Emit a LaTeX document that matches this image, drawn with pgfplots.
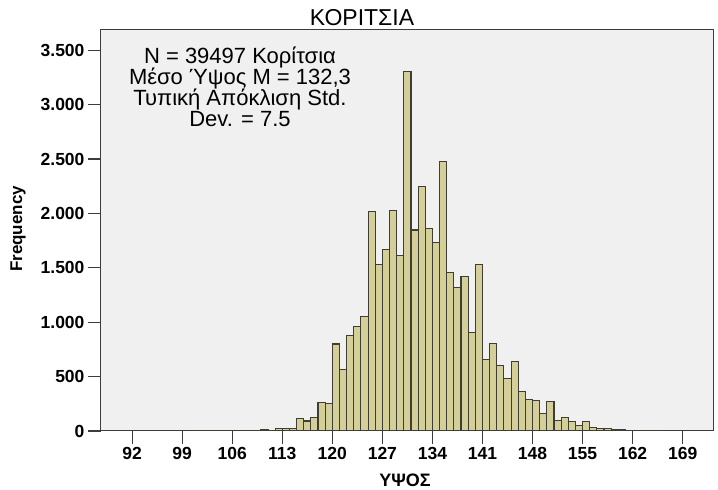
\documentclass[border=0pt]{standalone}
\usepackage{fontspec}
\setmainfont{Liberation Sans}
\usepackage{pgfplots}
\pgfplotsset{compat=1.18}
\definecolor{barfill}{RGB}{212,207,153}
\definecolor{baredge}{RGB}{62,62,52}
\definecolor{bgfill}{RGB}{240,240,240}
\definecolor{framecol}{RGB}{60,60,60}
\begin{document}
\begin{tikzpicture}
\path[use as bounding box] (0pt,0pt) rectangle (718pt,490pt);
\begin{axis}[
  at={(101pt,59pt)}, anchor=south west,
  scale only axis, width=612pt, height=401pt,
  xmin=87.65, xmax=173.24, ymin=0, ymax=3686,
  axis background/.style={fill=bgfill},
  axis line style={draw=framecol, line width=1pt},
  tick align=outside, xtick pos=bottom, ytick pos=left,
  major tick length=13pt,
  tick style={draw=framecol, line width=1.1pt},
  xtick={92,99,106,113,120,127,134,141,148,155,162,169},
  xticklabels={92,99,106,113,120,127,134,141,148,155,162,169},
  ytick={0,500,1000,1500,2000,2500,3000,3500},
  yticklabels={0,500,1.000,1.500,2.000,2.500,3.000,3.500},
  ticklabel style={font=\bfseries\fontsize{17.5}{19}\selectfont},
  clip=true,
]
\addplot[ybar interval, fill=barfill, draw=baredge, line width=1.1pt] coordinates {
(100,1) (101,0) (102,2) (103,1) (104,3) (105,5) (106,2) (107,3) (108,2) (109,4)
(110,15) (111,7) (112,24) (113,19) (114,19) (115,111) (116,92) (117,122) (118,265) (119,250)
(120,800) (121,562) (122,875) (123,961) (124,1055) (125,2018) (126,1527) (127,1667) (128,2026) (129,1615)
(130,3305) (131,1848) (132,2251) (133,1863) (134,1732) (135,2480) (136,1456) (137,1322) (138,1423) (139,909)
(140,1527) (141,658) (142,805) (143,603) (144,486) (145,636) (146,361) (147,290) (148,281) (149,160)
(150,272) (151,100) (152,128) (153,84) (154,52) (155,91) (156,30) (157,20) (158,20) (159,9)
(160,16) (161,4) (162,5) (163,2) (164,1) (165,2) (166,1) (167,0)
};
\end{axis}
\node[font=\fontsize{23}{23}\selectfont, anchor=base] at (362pt,464pt) {ΚΟΡΙΤΣΙΑ};
\node[font=\bfseries\fontsize{17}{17}\selectfont, rotate=90] at (18pt,261pt) {Frequency};
\node[font=\bfseries\fontsize{18}{18}\selectfont, anchor=base] at (405pt,3pt) {ΥΨΟΣ};
\begin{scope}
\clip (110pt,350pt) rectangle (354pt,445pt);
\node[font=\fontsize{22}{22}\selectfont, anchor=base, inner sep=0pt] at (240pt,426pt) {N = 39497 Κορίτσια};
\node[font=\fontsize{22}{22}\selectfont, anchor=base, inner sep=0pt] at (240pt,405pt) {Μέσο Ύψος M = 132,3};
\node[font=\fontsize{22}{22}\selectfont, anchor=base, inner sep=0pt] at (240pt,384pt) {Τυπική Απόκλιση Std.};
\node[font=\fontsize{22}{22}\selectfont, anchor=base, inner sep=0pt] at (240pt,363pt) {Dev. = 7.5};
\end{scope}
\end{tikzpicture}
\end{document}
